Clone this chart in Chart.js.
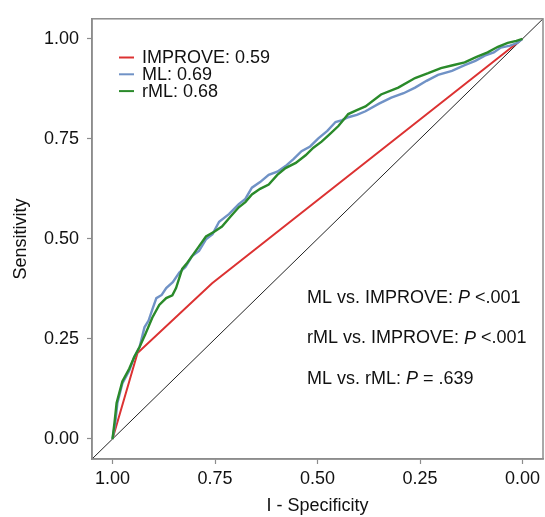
<!DOCTYPE html>
<html>
<head>
<meta charset="utf-8">
<script src="https://cdn.jsdelivr.net/npm/chart.js@4"></script>
<style>
  html, body { margin: 0; padding: 0; background: #fff; }
  #wrap { width: 545px; height: 517px; }
</style>
</head>
<body>
<div id="wrap"><canvas id="roc" width="545" height="517"></canvas></div>
<script>
// ROC data (x = specificity, axis reversed)
const improveSpec = [1.000, 0.939, 0.757, 0.000];
const improveSens = [0.000, 0.215, 0.389, 1.000];

const mlSpec = [1.000, 0.993, 0.988, 0.976, 0.959, 0.947, 0.934, 0.922, 0.912, 0.903, 0.893, 0.880, 0.869, 0.853, 0.837, 0.822, 0.806, 0.789, 0.772, 0.756, 0.740, 0.716, 0.692, 0.676, 0.660, 0.640, 0.619, 0.598, 0.578, 0.558, 0.539, 0.518, 0.498, 0.476, 0.456, 0.440, 0.425, 0.404, 0.383, 0.350, 0.320, 0.290, 0.262, 0.234, 0.206, 0.172, 0.141, 0.115, 0.092, 0.070, 0.053, 0.030, 0.012, 0.000];
const mlSens = [0.000, 0.042, 0.090, 0.139, 0.171, 0.205, 0.230, 0.279, 0.296, 0.323, 0.352, 0.360, 0.377, 0.392, 0.416, 0.430, 0.457, 0.470, 0.499, 0.512, 0.543, 0.562, 0.587, 0.600, 0.628, 0.642, 0.660, 0.668, 0.682, 0.700, 0.719, 0.731, 0.751, 0.770, 0.792, 0.797, 0.804, 0.810, 0.819, 0.838, 0.853, 0.864, 0.878, 0.895, 0.910, 0.920, 0.934, 0.945, 0.958, 0.966, 0.978, 0.983, 0.990, 1.000];

const rmlSpec = [1.000, 0.995, 0.990, 0.976, 0.959, 0.947, 0.934, 0.920, 0.903, 0.886, 0.869, 0.854, 0.845, 0.830, 0.818, 0.806, 0.790, 0.772, 0.752, 0.733, 0.712, 0.692, 0.676, 0.660, 0.640, 0.619, 0.598, 0.578, 0.553, 0.529, 0.510, 0.490, 0.470, 0.449, 0.425, 0.404, 0.383, 0.345, 0.303, 0.262, 0.230, 0.199, 0.170, 0.141, 0.112, 0.085, 0.060, 0.036, 0.015, 0.000];
const rmlSens = [0.000, 0.042, 0.090, 0.144, 0.176, 0.205, 0.230, 0.262, 0.303, 0.335, 0.352, 0.359, 0.377, 0.425, 0.440, 0.457, 0.480, 0.506, 0.518, 0.531, 0.556, 0.579, 0.592, 0.611, 0.625, 0.636, 0.660, 0.677, 0.690, 0.709, 0.728, 0.743, 0.762, 0.782, 0.812, 0.822, 0.831, 0.861, 0.878, 0.902, 0.914, 0.927, 0.934, 0.941, 0.955, 0.966, 0.980, 0.990, 0.995, 1.000];

const refSpec = [1.05, -0.05];
const refSens = [-0.05, 1.05];

const tickValues = [0, 0.25, 0.5, 0.75, 1];
const seriesNames = ['IMPROVE: 0.59', 'ML: 0.69', 'rML: 0.68'];
const seriesColors = ['#dc3232', '#7092c6', '#2a8a2a'];
const pValueLines = [
  ['ML vs. IMPROVE: ', 'P', ' <.001'],
  ['rML vs. IMPROVE: ', 'P', ' <.001'],
  ['ML vs. rML: ', 'P', ' = .639']
];

const FONT = '"Liberation Sans", Arial, Helvetica, sans-serif';
const GREY = '#8c8c8c';
const FS = 18;

function pts(xs, ys) {
  return xs.map((x, i) => ({ x: x, y: ys[i] }));
}

const boxAndText = {
  id: 'boxAndText',
  afterDatasetsDraw(chart) {
    const ctx = chart.ctx;
    const a = chart.chartArea;
    ctx.save();
    ctx.strokeStyle = GREY;
    ctx.lineWidth = 1.5;
    ctx.strokeRect(a.left, a.top, a.right - a.left, a.bottom - a.top);

    // legend inside the panel
    ctx.font = FS + 'px ' + FONT;
    ctx.textBaseline = 'middle';
    seriesNames.forEach((name, i) => {
      const y = 57.5 + i * 16.8;
      ctx.strokeStyle = seriesColors[i];
      ctx.lineWidth = 2;
      ctx.beginPath();
      ctx.moveTo(119, y);
      ctx.lineTo(134, y);
      ctx.stroke();
      ctx.fillStyle = '#111';
      ctx.fillText(name, 142, y + 1);
    });

    // p-value annotations
    pValueLines.forEach((parts, i) => {
      let x = 307;
      const y = 298 + i * 40.5;
      parts.forEach((p, j) => {
        ctx.font = (j === 1 ? 'italic ' : '') + FS + 'px ' + FONT;
        ctx.fillText(p, x, y);
        x += ctx.measureText(p).width;
      });
    });
    ctx.restore();
  }
};

new Chart(document.getElementById('roc'), {
  type: 'line',
  data: {
    datasets: [
      { label: 'ref', data: pts(refSpec, refSens), borderColor: '#222', borderWidth: 1, order: 4 },
      { label: seriesNames[0], data: pts(improveSpec, improveSens), borderColor: seriesColors[0], borderWidth: 2, order: 3 },
      { label: seriesNames[1], data: pts(mlSpec, mlSens), borderColor: seriesColors[1], borderWidth: 2.4, order: 2 },
      { label: seriesNames[2], data: pts(rmlSpec, rmlSens), borderColor: seriesColors[2], borderWidth: 2.4, order: 1 }
    ]
  },
  options: {
    responsive: false,
    animation: false,
    layout: { padding: { top: 7, right: 2, left: 0, bottom: 0 } },
    elements: { point: { radius: 0 }, line: { tension: 0 } },
    plugins: { legend: { display: false }, tooltip: { enabled: false } },
    scales: {
      x: {
        type: 'linear',
        reverse: true,
        min: -0.05,
        max: 1.05,
        afterBuildTicks: s => { s.ticks = tickValues.map(v => ({ value: v })); },
        afterFit: s => { s.height = 58; },
        ticks: {
          color: '#111',
          font: { family: FONT, size: FS },
          padding: 4,
          maxRotation: 0,
          callback: v => v.toFixed(2)
        },
        grid: { drawOnChartArea: false, tickLength: 5, color: GREY, tickWidth: 1.2 },
        border: { color: GREY, width: 1.5 },
        title: { display: true, text: 'I - Specificity', color: '#111', font: { family: FONT, size: FS }, padding: { top: 4, bottom: 0 } }
      },
      y: {
        type: 'linear',
        min: -0.05,
        max: 1.05,
        afterBuildTicks: s => { s.ticks = tickValues.map(v => ({ value: v })); },
        afterFit: s => { s.width = 92; },
        ticks: {
          color: '#111',
          font: { family: FONT, size: FS },
          padding: 8,
          callback: v => v.toFixed(2)
        },
        grid: { drawOnChartArea: false, tickLength: 5, color: GREY, tickWidth: 1.2 },
        border: { color: GREY, width: 1.5 },
        title: { display: true, text: 'Sensitivity', color: '#111', font: { family: FONT, size: FS }, padding: { top: 10, bottom: 0 } }
      }
    }
  },
  plugins: [boxAndText]
});
</script>
</body>
</html>
